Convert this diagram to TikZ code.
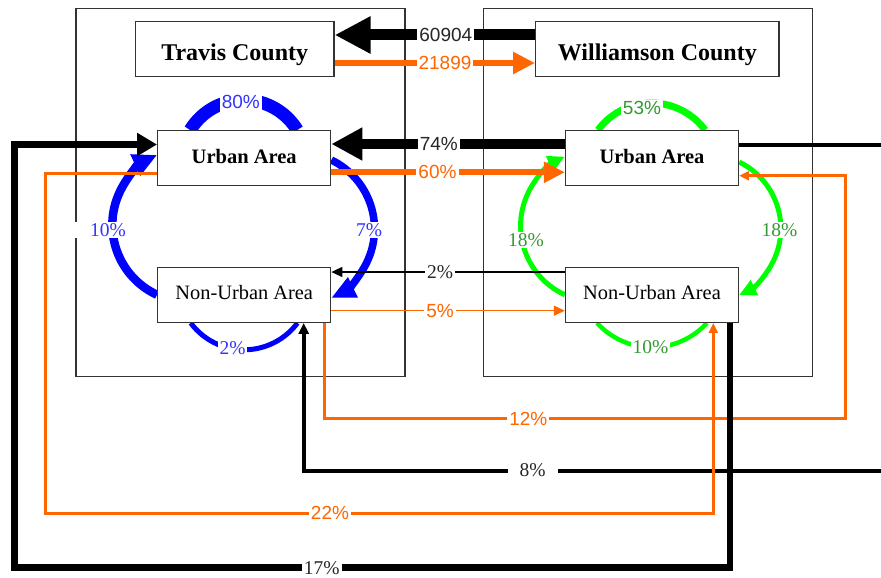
\documentclass[tikz,border=0pt]{standalone}
\usepackage{fontspec}
\setmainfont{Liberation Serif}
\newfontfamily\lsans{Liberation Sans}
\usetikzlibrary{arrows.meta}
\definecolor{orng}{HTML}{FF6600}
\definecolor{bluearc}{HTML}{0000FF}
\definecolor{bluetxt}{HTML}{3333FF}
\definecolor{greenarc}{HTML}{00FF00}
\definecolor{greentxt}{HTML}{339933}
\definecolor{frame}{HTML}{333333}
\definecolor{blk}{HTML}{000000}
\pgfdeclarelayer{back}
\pgfdeclarelayer{links}
\pgfsetlayers{back,links,main}
\begin{document}
\begin{tikzpicture}[x=1pt,y=-1pt,
  box/.style={draw=frame, line width=1.3pt, fill=white, inner sep=0pt},
  cbox/.style={box, minimum height=55pt, text height=22pt, text depth=0.4pt, font=\fontsize{24}{28}\selectfont\bfseries},
  ubox/.style={box, minimum width=173pt, minimum height=54.6pt, text height=14.5pt, text depth=4pt, font=\fontsize{20.5}{24}\selectfont\bfseries},
  nbox/.style={box, minimum width=173pt, minimum height=55pt, text height=13.6pt, text depth=4.6pt, font=\fontsize{20.4}{24}\selectfont},
  lbl/.style={fill=white, inner xsep=2pt, inner ysep=1pt, font=\lsans\fontsize{19}{21}\selectfont},
  slbl/.style={fill=white, inner xsep=2pt, inner ysep=1pt, font=\fontsize{19.5}{21}\selectfont},
  frm/.style={draw=frame, line width=1.3pt}
]
\useasboundingbox (0,0) rectangle (881,578);

% boxes
\node[cbox, minimum width=198.5pt] (tc) at (234.75,49.2) {Travis County};
\node[cbox, minimum width=243.3pt] (wc) at (657.35,49.2) {Williamson County};
\node[ubox] (tu) at (244.2,158) {Urban Area};
\node[ubox] (wu) at (652,158) {Urban Area};
\node[nbox] (tn) at (244.2,294.8) {Non-Urban Area};
\node[nbox] (wn) at (652,294.8) {Non-Urban Area};

% county frames
\begin{pgfonlayer}{back}
\draw[frm] (76,8.5) rectangle (405,376.5);
\draw[frm] (483.3,8.5) rectangle (812.7,376.5);
\end{pgfonlayer}

\begin{pgfonlayer}{links}
% Travis loop (blue)
\draw[bluearc, line width=13pt] ([xshift=-54pt]tu.north) arc[start angle=-148.6, end angle=-31.4, radius=62.7];
\draw[bluearc, line width=8.5pt, -{Triangle[length=24pt,width=22pt]}] (tn.west) arc[start angle=114.8, end angle=245.2, radius=77];
\draw[bluearc, line width=7.5pt, -{Triangle[length=24pt,width=21pt]}] ([yshift=-2pt]tu.east) arc[start angle=-64.1, end angle=64.1, radius=76.6];
\draw[bluearc, line width=5pt] ([xshift=-53.5pt]tn.south) arc[start angle=143.4, end angle=36.6, radius=66.5];
\node[lbl, text=bluetxt, inner ysep=4pt] (l80) at (240.8,101.7) {80\%};
\node[slbl, text=bluetxt, minimum width=70pt] (l10a) at (108,230) {10\%};
\node[slbl, text=bluetxt] (l7) at (369,230) {7\%};
\node[slbl, text=bluetxt] (l2a) at (232.5,348) {2\%};

% Williamson loop (green)
\draw[greenarc, line width=7pt] ([xshift=-54pt]wu.north) arc[start angle=-143.6, end angle=-36.4, radius=66.5];
\draw[greenarc, line width=5pt, -{Triangle[length=17pt,width=16pt]}] (wn.west) arc[start angle=114.7, end angle=245.3, radius=76];
\draw[greenarc, line width=5pt, -{Triangle[length=17pt,width=16pt]}] ([yshift=-4pt]wu.east) arc[start angle=-64.1, end angle=64.1, radius=74];
\draw[greenarc, line width=4.5pt] ([xshift=-55pt]wn.south) arc[start angle=137.8, end angle=42.2, radius=74.2];
\node[lbl, text=greentxt] (l53) at (642,108) {53\%};
\node[slbl, text=greentxt] (l18a) at (526,240) {18\%};
\node[slbl, text=greentxt] (l18b) at (779.5,230) {18\%};
\node[slbl, text=greentxt] (l10b) at (650.5,346.7) {10\%};

% county flows
\draw[blk, line width=11pt, -{Triangle[length=36pt,width=35pt]}]
  (wc.west |- 0,35) -- (445.8,35) node[lbl, text=blk!85] {60904} -- (tc.east |- 0,35);
\draw[orng, line width=6.5pt, -{Triangle[length=22pt,width=21pt]}]
  (tc.east |- 0,63) -- (445,63) node[lbl, text=orng] {21899} -- (wc.west |- 0,63);

% urban to urban
\draw[blk, line width=9.5pt, -{Triangle[length=31pt,width=31pt]}]
  (wu.west |- 0,144) -- (438.8,144) node[lbl, text=blk!85] {74\%} -- (tu.east |- 0,144);
\draw[orng, line width=6pt, -{Triangle[length=21pt,width=20pt]}]
  (tu.east |- 0,172.3) -- (437.5,172.3) node[lbl, text=orng] {60\%} -- (wu.west |- 0,172.3);

% non-urban to non-urban
\draw[blk, line width=1.5pt, -{Triangle[length=11pt,width=10pt]}]
  (wn.west |- 0,272) -- (440,272) node[slbl, text=blk!85] {2\%} -- (tn.east |- 0,272);
\draw[orng, line width=1.5pt, -{Triangle[length=11pt,width=10pt]}]
  (tn.east |- 0,310.7) -- (440,310.7) node[lbl, text=orng] {5\%} -- (wn.west |- 0,310.7);

% cross flows
\draw[orng, line width=3pt, -{Triangle[length=10pt,width=9pt]}]
  (tn.south -| 324.3,0) -- (324.3,418.7) -- (528.3,418.7) node[lbl, text=orng] {12\%}
  -- (845,418.7) -- (845,175.7) -- (wu.east |- 0,175.7);
\draw[blk, line width=4pt, -{Triangle[length=11pt,width=10pt]}]
  (wu.east |- 0,145.3) -- (900,145.3) -- (900,470.5) -- (532.5,470.5) node[slbl, inner xsep=12pt, text=blk!85] {8\%}
  -- (303.7,470.5) -- (tn.south -| 303.7,0);
\draw[orng, line width=3pt, -{Triangle[length=10pt,width=9pt]}]
  (tu.west |- 0,173) -- (45,173) -- (45,513.3) -- (330,513.3) node[lbl, text=orng] {22\%}
  -- (713.3,513.3) -- (wn.south -| 713.3,0);
\draw[blk, line width=6.5pt, -{Triangle[length=20pt,width=22pt]}]
  (wn.south -| 730,0) -- (730,567.7) -- (321.7,567.7) node[slbl, text=blk!85] {17\%}
  -- (14.5,567.7) -- (14.5,144.5) -- (tu.west |- 0,144.5);
\end{pgfonlayer}
\end{tikzpicture}
\end{document}
